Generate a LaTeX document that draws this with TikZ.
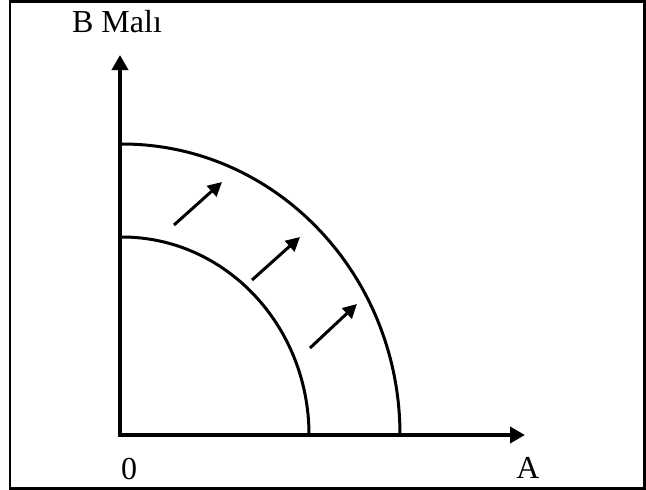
\documentclass[tikz,border=0pt]{standalone}
\usepackage{fontspec}
\setmainfont{Liberation Serif}
\usetikzlibrary{arrows.meta}
\begin{document}
\begin{tikzpicture}[x=1pt,y=-1pt,
  axis/.style={line width=4pt,{Triangle[length=15pt,width=16pt]}-{Triangle[length=15pt,width=16pt]}},
  curve/.style={line width=3pt},
  shift arrow/.style={line width=3pt,-{Triangle[length=14pt,width=14pt]}},
  lbl/.style={font=\fontsize{32}{32}\selectfont,anchor=base,inner sep=0pt}]
\useasboundingbox (0,0) rectangle (646,490);
\draw[line width=2.6pt] (10,1.3) rectangle (644.5,488.7);
\coordinate (O) at (120,435);
\coordinate (Ytip) at (120,55);
\coordinate (Xtip) at (525,435);
\draw[axis] (Ytip) -- (O) -- (Xtip);
% curves
\coordinate (I0) at (122,237);
\coordinate (O0) at (122,144);
\draw[curve] (I0) arc[start angle=-90,end angle=0,x radius=187,y radius=198];
\draw[curve] (O0) arc[start angle=-90,end angle=0,x radius=278,y radius=291];
% shift arrows
\coordinate (a1) at (174,225); \coordinate (b1) at (222,182);
\coordinate (a2) at (252,280); \coordinate (b2) at (300,237);
\coordinate (a3) at (310,348); \coordinate (b3) at (357,304);
\draw[shift arrow] (a1) -- (b1);
\draw[shift arrow] (a2) -- (b2);
\draw[shift arrow] (a3) -- (b3);
\node[lbl] (ylab) at (117,32) {B Malı};
\node[lbl] (zero) at (129,479) {0};
\node[lbl] (xlab) at (528,478) {A};
\end{tikzpicture}
\end{document}
